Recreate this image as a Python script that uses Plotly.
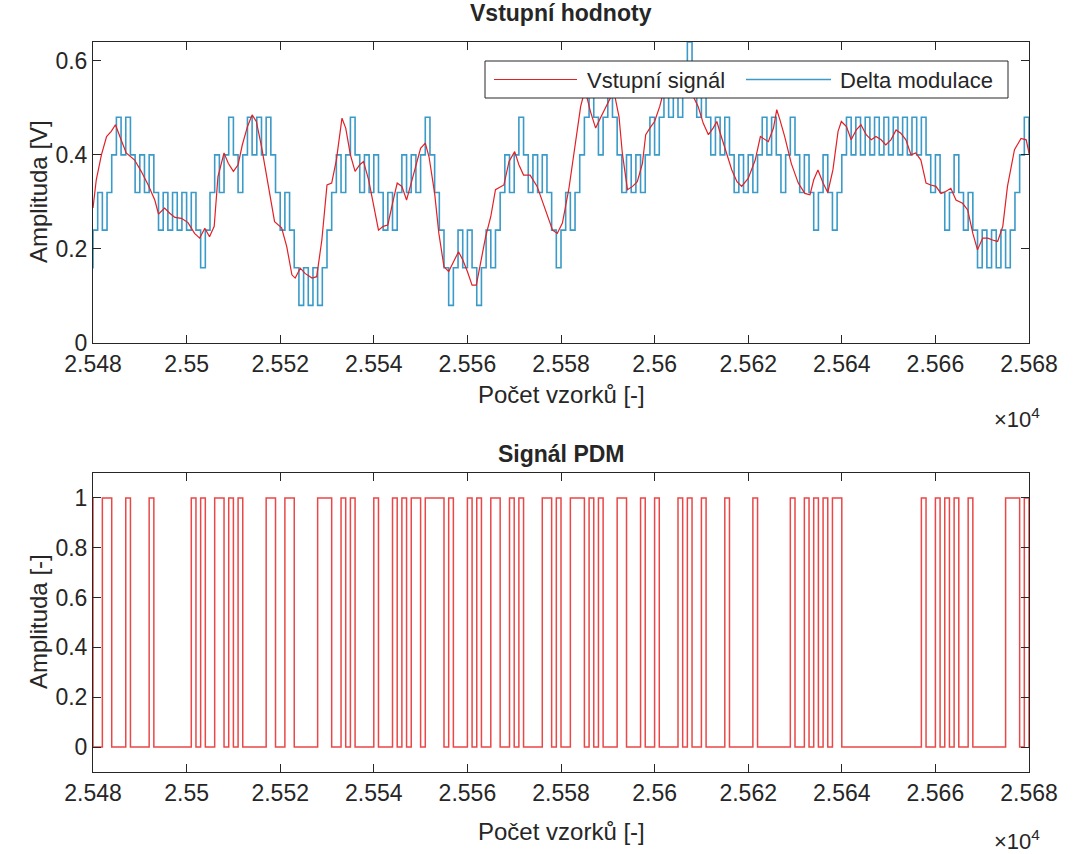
import plotly.graph_objects as go

FONT = "Liberation Sans, Arial, sans-serif"
INK = "#262626"

# First sample shown on both axes
START = 25480

# Input signal: (sample offset from START, amplitude in V)
sig_offset = [0, 0.7, 1.8, 2.9, 3.9, 4.8, 6, 7.1, 8.9, 10.3, 11.8, 13.2, 14, 15.3, 16.4, 17.5, 18.9,
              20.3, 21.7, 22.8, 23.9, 24.9, 25.9, 26.7, 28, 28.9, 30, 31, 31.9, 33, 34, 34.9, 36,
              37.4, 38.8, 40.3, 41.4, 42.5, 43.2, 44.3, 45.3, 46.8, 47.8, 48.9, 50, 51, 52, 53.2,
              54, 55, 56, 57, 57.8, 58.9, 60, 61, 62, 63, 64, 65, 66, 67, 67.8, 69, 70, 71, 71.8,
              73, 73.9, 75, 76, 78.1, 79, 80, 81, 81.9, 82.8, 83.9, 85, 86, 87.8, 88.9, 90.1, 91,
              92, 93.4, 94.9, 96.4, 98.2, 99.2, 100.3, 101.7, 103.1, 104.2, 104.9, 105.6, 106.3,
              107.4, 108.5, 109.5, 110.5, 111.4, 112.4, 113.1, 114.2, 115.3, 116.3, 117.4, 118.1,
              119.2, 120, 121.1, 121.8, 123, 124.5, 126, 127.2, 128.2, 129.3, 130.4, 131.5, 132.5,
              133.3, 134, 135.1, 136.5, 137.6, 138.6, 140, 141.5, 142.6, 143.3, 144.3, 145.4,
              146.1, 146.8, 147.8, 149.2, 150.7, 152.1, 153.2, 154, 154.9, 156, 157, 158.1, 159.2,
              159.9, 161, 162, 163.1, 164.1, 165.2, 166.3, 167.3, 168.4, 169.4, 170.5, 171.6,
              172.6, 173.7, 174.8, 175.8, 176.9, 178, 179, 180.1, 181.2, 182.2, 183.3, 184.4,
              185.8, 186.9, 188, 189, 190.1, 191.2, 192.2, 193.3, 194.4, 195.4, 196.9, 198.3,
              199.4, 200]
sig_value = [0.287, 0.347, 0.400, 0.439, 0.450, 0.464, 0.432, 0.404, 0.389, 0.365, 0.336, 0.304,
             0.274, 0.287, 0.276, 0.267, 0.265, 0.256, 0.233, 0.223, 0.244, 0.226, 0.248, 0.354,
             0.404, 0.382, 0.365, 0.379, 0.421, 0.460, 0.485, 0.471, 0.418, 0.340, 0.258, 0.245,
             0.205, 0.145, 0.138, 0.159, 0.148, 0.138, 0.141, 0.219, 0.336, 0.340, 0.389, 0.478,
             0.457, 0.400, 0.365, 0.379, 0.386, 0.347, 0.290, 0.240, 0.248, 0.251, 0.297, 0.340,
             0.333, 0.304, 0.333, 0.379, 0.414, 0.425, 0.396, 0.318, 0.233, 0.162, 0.152, 0.194,
             0.177, 0.152, 0.123, 0.123, 0.170, 0.226, 0.269, 0.326, 0.336, 0.386, 0.407, 0.379,
             0.357, 0.357, 0.333, 0.290, 0.240, 0.233, 0.255, 0.329, 0.432, 0.503, 0.530, 0.520,
             0.492, 0.457, 0.480, 0.500, 0.520, 0.530, 0.481, 0.404, 0.326, 0.333, 0.343, 0.382,
             0.443, 0.460, 0.471, 0.503, 0.530, 0.550, 0.565, 0.575, 0.560, 0.525, 0.503, 0.467,
             0.443, 0.457, 0.471, 0.447, 0.411, 0.368, 0.343, 0.333, 0.350, 0.389, 0.439, 0.435,
             0.428, 0.457, 0.496, 0.474, 0.439, 0.382, 0.340, 0.318, 0.315, 0.347, 0.368, 0.340,
             0.320, 0.368, 0.450, 0.471, 0.460, 0.432, 0.453, 0.464, 0.443, 0.432, 0.439, 0.432,
             0.421, 0.432, 0.453, 0.446, 0.432, 0.400, 0.404, 0.389, 0.340, 0.336, 0.333, 0.318,
             0.322, 0.329, 0.304, 0.297, 0.283, 0.233, 0.198, 0.223, 0.223, 0.219, 0.216, 0.248,
             0.333, 0.411, 0.435, 0.432, 0.404]

# Delta modulation output, one level per sample, starting one sample before START
delta_value = [0.16,
    0.24, 0.32, 0.24, 0.32, 0.40, 0.48, 0.40, 0.48, 0.40, 0.32,
    0.40, 0.32, 0.40, 0.32, 0.24, 0.32, 0.24, 0.32, 0.24, 0.32,
    0.24, 0.32, 0.24, 0.16, 0.24, 0.32, 0.40, 0.32, 0.40, 0.48,
    0.40, 0.32, 0.40, 0.48, 0.40, 0.48, 0.40, 0.48, 0.40, 0.32,
    0.24, 0.32, 0.24, 0.16, 0.08, 0.16, 0.08, 0.16, 0.08, 0.16,
    0.24, 0.32, 0.40, 0.32, 0.40, 0.48, 0.40, 0.32, 0.40, 0.32,
    0.40, 0.32, 0.24, 0.32, 0.24, 0.32, 0.40, 0.32, 0.40, 0.32,
    0.40, 0.48, 0.40, 0.32, 0.24, 0.16, 0.08, 0.16, 0.24, 0.16,
    0.24, 0.16, 0.08, 0.16, 0.24, 0.16, 0.24, 0.32, 0.40, 0.32,
    0.40, 0.48, 0.40, 0.32, 0.40, 0.32, 0.40, 0.32, 0.24, 0.16,
    0.24, 0.32, 0.24, 0.32, 0.40, 0.48, 0.56, 0.48, 0.40, 0.48,
    0.56, 0.48, 0.40, 0.32, 0.40, 0.32, 0.40, 0.32, 0.40, 0.48,
    0.40, 0.48, 0.56, 0.48, 0.56, 0.48, 0.56, 0.64, 0.56, 0.48,
    0.56, 0.48, 0.40, 0.48, 0.40, 0.48, 0.40, 0.32, 0.40, 0.32,
    0.40, 0.32, 0.40, 0.48, 0.40, 0.48, 0.40, 0.32, 0.40, 0.48,
    0.40, 0.32, 0.40, 0.32, 0.24, 0.32, 0.40, 0.32, 0.24, 0.32,
    0.40, 0.48, 0.40, 0.48, 0.40, 0.48, 0.40, 0.48, 0.40, 0.48,
    0.40, 0.48, 0.40, 0.48, 0.40, 0.48, 0.40, 0.48, 0.40, 0.32,
    0.40, 0.32, 0.24, 0.32, 0.40, 0.32, 0.24, 0.32, 0.24, 0.16,
    0.24, 0.16, 0.24, 0.16, 0.24, 0.16, 0.24, 0.32, 0.40, 0.48,
    0.40]

# PDM bit stream, one bit per sample, starting one sample before START
pdm_bits = [1,
    0, 0, 1, 1, 0, 0, 0, 1, 0, 0,
    0, 0, 1, 0, 0, 0, 0, 0, 0, 0,
    0, 1, 0, 1, 0, 0, 1, 1, 0, 1,
    0, 1, 0, 0, 0, 0, 0, 1, 1, 0,
    0, 1, 1, 0, 0, 0, 0, 0, 1, 1,
    1, 0, 0, 1, 0, 1, 0, 0, 0, 0,
    1, 0, 0, 0, 1, 0, 1, 0, 1, 1,
    0, 1, 1, 1, 1, 0, 1, 0, 0, 0,
    1, 0, 1, 0, 0, 1, 1, 0, 0, 1,
    0, 1, 0, 0, 0, 0, 1, 1, 0, 1,
    0, 0, 1, 1, 1, 0, 1, 0, 1, 0,
    0, 0, 1, 1, 0, 0, 0, 1, 0, 0,
    1, 0, 0, 0, 0, 1, 0, 1, 0, 0,
    1, 0, 0, 0, 0, 1, 0, 0, 0, 0,
    0, 1, 0, 0, 0, 0, 0, 0, 0, 1,
    0, 0, 1, 0, 1, 0, 1, 0, 1, 1,
    0, 0, 0, 0, 0, 0, 0, 0, 0, 0,
    0, 0, 0, 0, 0, 0, 0, 1, 0, 0,
    1, 0, 1, 0, 1, 0, 0, 1, 0, 0,
    0, 0, 0, 0, 0, 1, 1, 1, 0, 1,
    0]

tick_samples = list(range(25480, 25681, 20))
tick_labels = ["2.548", "2.55", "2.552", "2.554", "2.556", "2.558",
               "2.56", "2.562", "2.564", "2.566", "2.568"]

sig_x = [START + o for o in sig_offset]
delta_x = [START - 1 + i for i in range(len(delta_value))]
pdm_x = [START - 1 + i for i in range(len(pdm_bits))]

RED = "rgb(226,32,38)"
PDM_RED = "rgb(234,72,72)"
BLUE = "rgb(58,154,200)"

fig = go.Figure()
fig.add_trace(go.Scatter(x=delta_x, y=delta_value, mode="lines", line_shape="hv",
                         line=dict(color=BLUE, width=1.6), xaxis="x", yaxis="y",
                         showlegend=False, name="Delta modulace"))
fig.add_trace(go.Scatter(x=sig_x, y=sig_value, mode="lines",
                         line=dict(color=RED, width=1.2), xaxis="x", yaxis="y",
                         showlegend=False, name="Vstupní signál"))
fig.add_trace(go.Scatter(x=pdm_x, y=pdm_bits, mode="lines", line_shape="hv",
                         line=dict(color=PDM_RED, width=1.5), xaxis="x2", yaxis="y2",
                         showlegend=False, name="PDM"))

# Plot area in pixels: left 93, right 1029, top 42, bottom 772
L, R, T, B = 93, 1029, 42, 772
W, H = R - L, B - T


def px(X):
    return (X - L) / W


def py(Y):
    return (B - Y) / H


axis_common = dict(showline=True, linecolor=INK, linewidth=1, mirror="ticks",
                   ticks="inside", ticklen=8, tickcolor=INK, tickwidth=1,
                   showgrid=False, zeroline=False,
                   tickfont=dict(family=FONT, size=23, color=INK))

fig.update_layout(
    width=1073, height=854,
    margin=dict(l=L, r=1073 - R, t=T, b=854 - B),
    paper_bgcolor="white", plot_bgcolor="white",
    showlegend=False,
    xaxis=dict(domain=[0, 1], anchor="y", range=[25480, 25680],
               tickvals=tick_samples, ticktext=tick_labels, **axis_common),
    yaxis=dict(domain=[py(343), 1], anchor="x", range=[0, 0.64],
               tickvals=[0, 0.2, 0.4, 0.6], ticktext=["0", "0.2", "0.4", "0.6"],
               **axis_common),
    xaxis2=dict(domain=[0, 1], anchor="y2", range=[25480, 25680],
                tickvals=tick_samples, ticktext=tick_labels, **axis_common),
    yaxis2=dict(domain=[0, py(473)], anchor="x2", range=[-0.1, 1.1],
                tickvals=[0, 0.2, 0.4, 0.6, 0.8, 1],
                ticktext=["0", "0.2", "0.4", "0.6", "0.8", "1"], **axis_common),
)

# Legend box for the upper axes
fig.add_shape(type="rect", xref="paper", yref="paper",
              x0=px(485), x1=px(1008), y0=py(98), y1=py(61),
              line=dict(color=INK, width=1), fillcolor="white", layer="above")
fig.add_shape(type="line", xref="paper", yref="paper",
              x0=px(494), x1=px(577), y0=py(79.5), y1=py(79.5),
              line=dict(color=RED, width=1.2), layer="above")
fig.add_shape(type="line", xref="paper", yref="paper",
              x0=px(746), x1=px(831), y0=py(79.5), y1=py(79.5),
              line=dict(color=BLUE, width=1.6), layer="above")


def label(text, X, Y, size, xanchor="center", angle=0):
    fig.add_annotation(text=text, xref="paper", yref="paper", x=px(X), y=py(Y),
                       xanchor=xanchor, yanchor="middle", showarrow=False,
                       textangle=angle, font=dict(family=FONT, size=size, color=INK))


label("Vstupní signál", 585, 80, 22, xanchor="left")
label("Delta modulace", 838, 80, 22, xanchor="left")

label("<b>Vstupní hodnoty</b>", 561, 13, 23)
label("Počet vzorků [-]", 561, 395, 24)
label("×10<sup>4</sup>", 1042, 418, 22, xanchor="right")
label("Amplituda [V]", 38, 192, 24, angle=-90)

label("<b>Signál PDM</b>", 561, 454, 23)
label("Počet vzorků [-]", 561, 831, 24)
label("×10<sup>4</sup>", 1042, 840, 22, xanchor="right")
label("Amplituda [-]", 38, 622, 24, angle=-90)

fig.write_html("out.html")
